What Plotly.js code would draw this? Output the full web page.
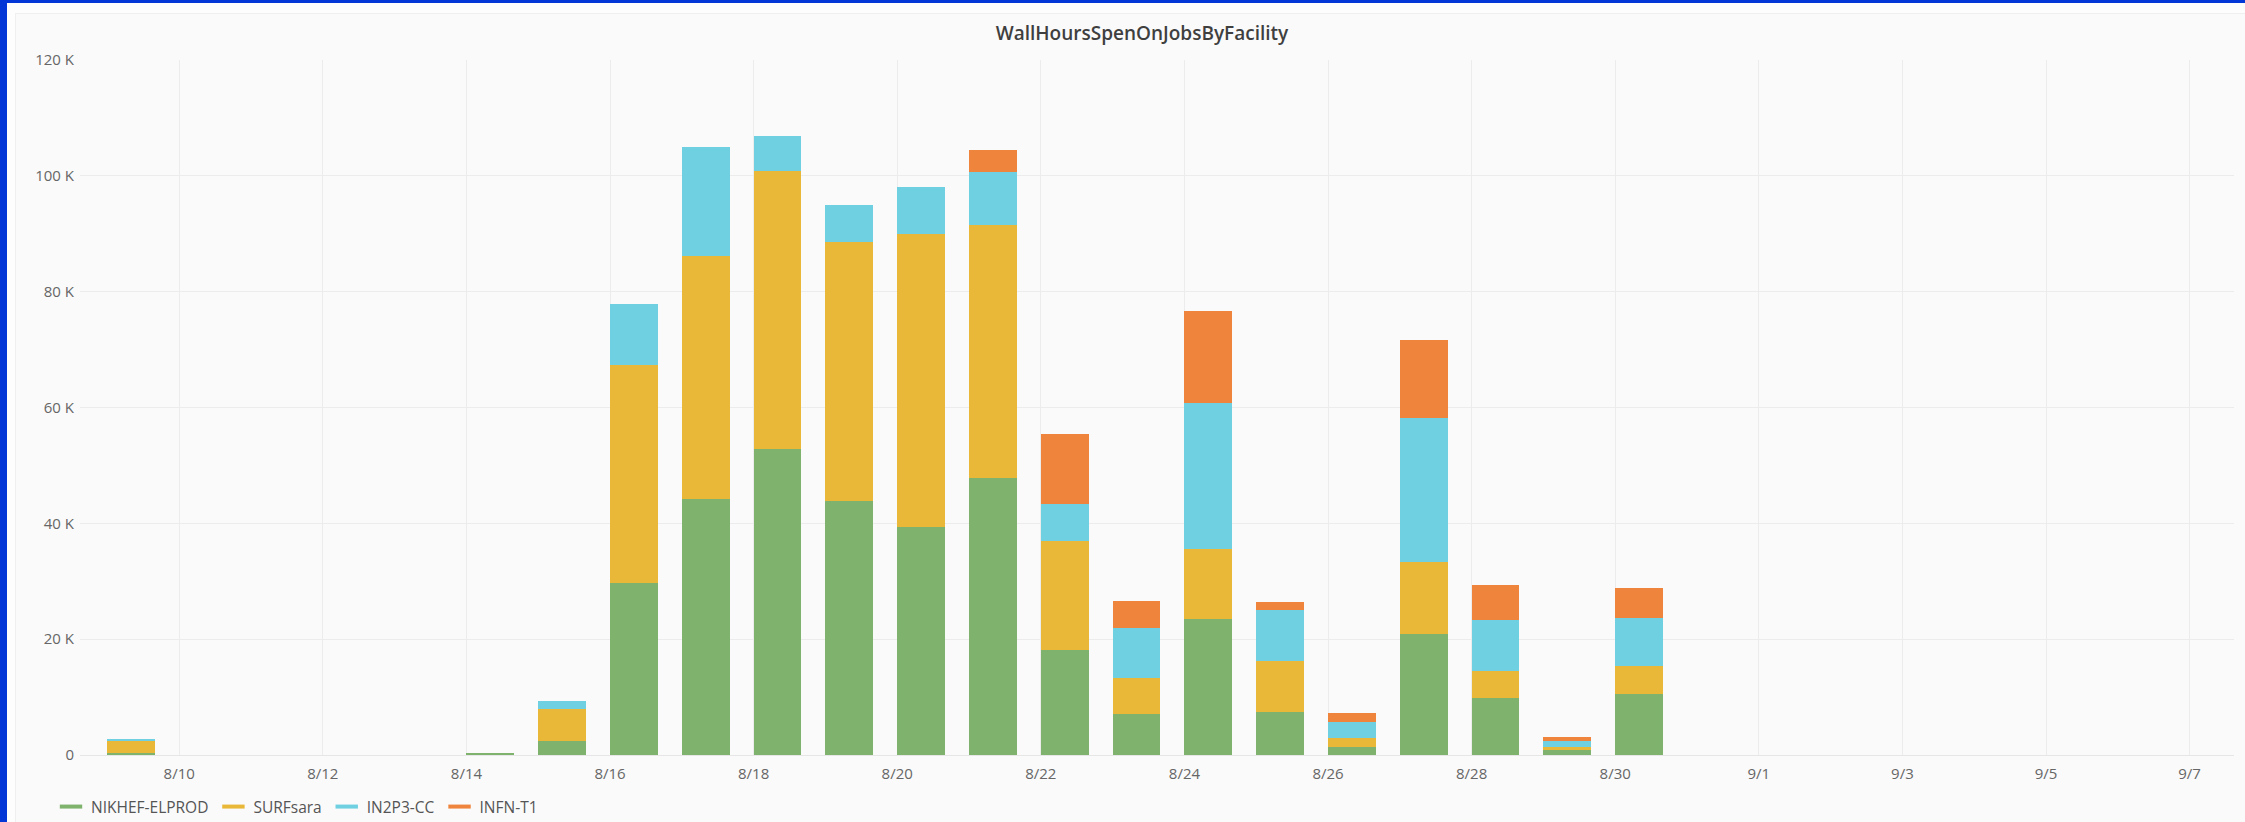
<!DOCTYPE html>
<html>
<head>
<meta charset="utf-8">
<script src="https://cdn.plot.ly/plotly-3.0.1.min.js"></script>
<style>
  html, body { margin: 0; padding: 0; background: #fdfdfd; }
  #wrap { position: relative; width: 2245px; height: 822px; overflow: hidden; }
  .blue { position: absolute; background: #0336d6; }
  #panel { position: absolute; left: 15px; top: 13px; right: 0; bottom: 0; background: #fafafa;
           border-left: 1px solid #efefef; border-top: 1px solid #efefef; }
  #chart { position: absolute; left: 0; top: 0; width: 2245px; height: 822px; }
</style>
</head>
<body>
<div id="wrap">
  <div class="blue" style="left:0;top:0;width:7px;height:822px"></div>
  <div class="blue" style="left:0;top:0;width:2245px;height:3px"></div>
  <div id="panel"></div>
  <div id="chart"></div>
</div>
<script>
// ---- data (wall hours) ----
const dates = ['2023-08-09','2023-08-14','2023-08-15','2023-08-16','2023-08-17','2023-08-18',
               '2023-08-19','2023-08-20','2023-08-21','2023-08-22','2023-08-23','2023-08-24',
               '2023-08-25','2023-08-26','2023-08-27','2023-08-28','2023-08-29','2023-08-30'];
const nikhefElprod = [400, 400, 2500, 29700, 44200, 52900, 43900, 39400, 47800, 18100, 7100, 23500,
                      7500, 1400, 20900, 9800, 950, 10500];
const surfsara     = [2000, 0, 5500, 37700, 41900, 47900, 44700, 50500, 43700, 18900, 6200, 12100,
                      8800, 1600, 12500, 4700, 450, 4900];
const in2p3cc      = [300, 0, 1300, 10400, 18900, 6000, 6300, 8200, 9100, 6400, 8700, 25200,
                      8700, 2700, 24800, 8800, 1100, 8200];
const infnT1       = [0, 0, 0, 0, 0, 0, 0, 0, 3900, 12100, 4600, 15800,
                      1500, 1600, 13400, 6000, 600, 5300];
const seriesNames  = ['NIKHEF-ELPROD', 'SURFsara', 'IN2P3-CC', 'INFN-T1'];
const seriesColors = ['#7EB26D', '#EAB839', '#6ED0E0', '#EF843C'];
const yTickValues  = [0, 20000, 40000, 60000, 80000, 100000, 120000];
const yTickLabels  = yTickValues.map(v => v === 0 ? '0' : (v / 1000) + ' K');
const titleText    = 'WallHoursSpenOnJobsByFacility';

const seriesValues = [nikhefElprod, surfsara, in2p3cc, infnT1];
const DAY = 86400000;

const traces = [];
seriesValues.forEach((vals, i) => {
  traces.push({
    type: 'bar', x: dates, y: vals, name: seriesNames[i],
    legendgroup: seriesNames[i], showlegend: false,
    offset: 0, width: 0.665 * DAY,
    marker: { color: seriesColors[i], line: { width: 0 } },
    hoverinfo: 'skip'
  });
});
seriesValues.forEach((vals, i) => {
  traces.push({
    type: 'scatter', mode: 'markers', x: [null], y: [null], name: seriesNames[i],
    legendgroup: seriesNames[i], showlegend: true,
    marker: { symbol: 'line-ew', size: 16, color: seriesColors[i],
              line: { color: seriesColors[i], width: 4 } }
  });
});

const layout = {
  width: 2245, height: 822,
  paper_bgcolor: 'rgba(0,0,0,0)', plot_bgcolor: 'rgba(0,0,0,0)',
  font: { family: 'Open Sans, sans-serif', size: 15, color: '#666666' },
  margin: { l: 80, r: 11, t: 60, b: 67, pad: 0 },
  barmode: 'stack',
  title: {
    text: titleText, xref: 'container', yref: 'container',
    x: 0.5087, xanchor: 'center', y: 1 - 33 / 822, yanchor: 'middle',
    font: { family: 'Open Sans, sans-serif', size: 19, color: '#3f3f3f', weight: 600 }
  },
  xaxis: {
    type: 'date',
    range: ['2023-08-08 14:50', '2023-09-07 14:50'],
    tick0: '2023-08-10', dtick: 2 * DAY, tickformat: '%-m/%-d',
    showgrid: true, gridcolor: '#ececec', gridwidth: 1,
    zeroline: false, showline: false, ticks: '',
    ticklabelstandoff: 8,
    tickfont: { size: 15, color: '#666666' }
  },
  yaxis: {
    range: [0, 120000],
    tickvals: yTickValues, ticktext: yTickLabels,
    showgrid: true, gridcolor: '#ececec', gridwidth: 1,
    zeroline: true, zerolinecolor: '#e6e6e6', zerolinewidth: 1,
    showline: false, ticks: '',
    ticklabelstandoff: 5,
    tickfont: { size: 15, color: '#666666' }
  },
  showlegend: true,
  legend: {
    orientation: 'h', xref: 'container', yref: 'container',
    x: 51 / 2245, xanchor: 'left', y: 1 - 807 / 822, yanchor: 'middle',
    bgcolor: 'rgba(0,0,0,0)', borderwidth: 0,
    font: { family: 'Open Sans, sans-serif', size: 15.5, color: '#555555' },
    traceorder: 'normal', itemclick: false, itemdoubleclick: false
  },
  bargap: 0
};

Plotly.newPlot('chart', traces, layout, { staticPlot: true, displayModeBar: false });
</script>
</body>
</html>
